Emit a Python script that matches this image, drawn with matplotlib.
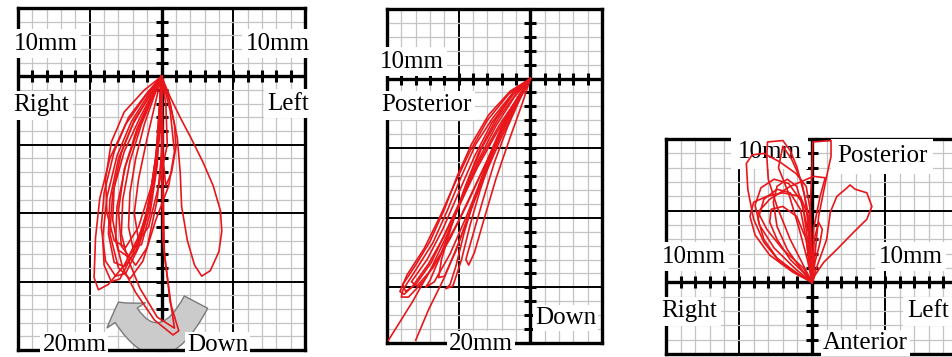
import matplotlib
matplotlib.use("Agg")
import matplotlib.pyplot as plt
import numpy as np
from matplotlib.patches import FancyArrowPatch

# ---------------- data (mm) ----------------
# Panel 1: frontal view (x: Right(-)/Left(+), y: Down(-))
front_loops = [
    [(0, 0), (-1.1, -1.4), (-2.5, -3.5), (-3.6, -6.0), (-4.3, -8.9), (-4.6, -11.8), (-4.7, -14.7),
     (-4.4, -15.6), (-3.7, -15.2), (-2.6, -13.8), (-1.4, -11.3), (-0.5, -7.7), (-0.1, -4.0), (0, 0)],
    [(0, 0), (-1.0, -1.2), (-2.3, -3.0), (-3.3, -5.5), (-4.0, -8.5), (-4.2, -11.0), (-3.9, -13.5),
     (-3.2, -14.6), (-2.5, -14.4), (-1.6, -12.5), (-0.8, -9.5), (-0.3, -5.5), (0, 0)],
    [(0, 0), (-0.9, -1.5), (-2.0, -3.5), (-3.0, -6.0), (-3.6, -9.0), (-3.7, -11.5), (-3.3, -13.6),
     (-2.6, -13.9), (-1.8, -12.8), (-1.0, -10.0), (-0.4, -6.0), (0, 0)],
    [(0, 0), (-0.8, -1.4), (-1.9, -3.2), (-2.8, -5.6), (-3.3, -8.0), (-3.4, -10.5), (-3.0, -12.7),
     (-2.3, -13.2), (-1.5, -12.0), (-0.8, -9.0), (-0.3, -5.0), (0, 0)],
    [(0, 0), (-0.7, -1.6), (-1.6, -3.8), (-2.5, -6.5), (-3.1, -9.5), (-3.2, -12.0), (-2.7, -14.0),
     (-1.8, -15.8), (-0.5, -17.8), (0.8, -18.9), (1.2, -18.6), (0.6, -16.5), (0.1, -12.0), (0.0, -6.0), (0, 0)],
    [(0, 0), (-0.6, -1.5), (-1.4, -3.5), (-2.2, -6.2), (-2.7, -9.0), (-2.8, -11.5), (-2.4, -13.2),
     (-1.5, -15.5), (-0.3, -17.6), (0.9, -18.4), (0.7, -17.0), (0.2, -13.0), (0.1, -8.0), (0, 0)],
    [(0, 0), (-0.6, -1.2), (-1.5, -3.0), (-2.6, -5.5), (-3.4, -8.5), (-3.6, -11.5), (-3.0, -14.0),
     (-2.2, -14.8), (-1.3, -13.5), (-0.4, -10.5), (0.5, -8.0), (0.9, -5.5), (0.6, -2.5), (0, 0)],
    [(0, 0), (-0.5, -1.4), (-1.2, -3.5), (-1.8, -6.0), (-2.2, -8.5), (-2.3, -11.0), (-2.0, -12.5),
     (-1.4, -12.3), (-0.8, -10.0), (-0.3, -6.5), (0, 0)],
    [(0, 0), (-1.2, -1.0), (-2.6, -2.6), (-3.5, -4.8), (-3.9, -7.5), (-3.8, -10.0), (-3.3, -12.0),
     (-2.5, -12.5), (-1.6, -11.0), (-0.7, -8.0), (-0.2, -4.5), (0, 0)],
    [(0, 0), (0.6, -1.5), (1.3, -3.0), (2.1, -4.6), (2.9, -6.3), (3.6, -8.0), (4.1, -9.8), (4.2, -11.3),
     (4.0, -12.8), (3.4, -14.2), (2.8, -14.6), (2.3, -13.8), (1.8, -12.0), (1.4, -9.5), (1.3, -7.0),
     (1.1, -4.5), (0.6, -2.0), (0, 0)],
    [(0, 0), (0.5, -1.5), (0.9, -3.5), (1.0, -5.2), (0.7, -7.0), (0.3, -8.0), (0.1, -6.0), (0, 0)],
    [(0, 0), (-0.4, -1.8), (-1.0, -4.5), (-1.6, -7.5), (-1.9, -10.0), (-1.6, -12.0), (-0.9, -11.0),
     (-0.2, -8.0), (0.4, -5.0), (0.3, -2.0), (0, 0)],
    [(0, 0), (-0.9, -1.3), (-2.1, -3.3), (-3.1, -5.8), (-3.8, -8.8), (-4.1, -11.8), (-4.0, -13.8),
     (-3.5, -15.0), (-2.9, -14.8), (-2.0, -13.0), (-1.1, -10.2), (-0.4, -6.5), (0, 0)],
    [(0, 0), (-0.7, -1.5), (-1.7, -3.8), (-2.6, -6.8), (-3.0, -9.8), (-2.8, -12.4), (-1.8, -13.8),
     (-1.0, -12.5), (-0.3, -9.0), (0.1, -4.5), (0, 0)],
]

# Panel 2: sagittal view (x: Posterior(-), y: Down(-))
sagittal_loops = [
    [(0, 0), (-1.2, -1.0), (-2.6, -2.8), (-3.8, -4.7), (-4.8, -7.0), (-5.8, -9.5), (-6.8, -11.8),
     (-7.9, -13.6), (-8.9, -15.2), (-9.0, -15.7), (-8.5, -15.7), (-7.4, -14.5), (-6.2, -12.5),
     (-5.0, -10.2), (-3.8, -7.6), (-2.6, -5.0), (-1.3, -2.4), (0, 0)],
    [(0, 0), (-1.0, -1.1), (-2.2, -2.8), (-3.4, -5.0), (-4.4, -7.5), (-5.4, -10.2), (-6.3, -12.8),
     (-7.0, -14.5), (-7.3, -15.0), (-6.7, -14.6), (-5.6, -12.6), (-4.5, -10.0), (-3.4, -7.2),
     (-2.2, -4.4), (-1.0, -1.8), (0, 0)],
    [(0, 0), (-0.8, -1.2), (-1.9, -3.2), (-2.9, -5.6), (-3.8, -8.3), (-4.6, -11.0), (-5.2, -13.5),
     (-5.6, -14.8), (-5.9, -15.1), (-5.4, -14.9), (-4.8, -13.0), (-4.2, -10.5), (-3.5, -8.0),
     (-2.6, -5.3), (-1.5, -2.6), (0, 0)],
    [(0, 0), (-1.1, -1.3), (-2.4, -3.4), (-3.6, -5.8), (-4.7, -8.5), (-5.8, -11.2), (-6.9, -13.6),
     (-8.2, -16.0), (-9.9, -18.8)],
    [(0, 0), (-0.9, -1.4), (-2.0, -3.6), (-3.0, -6.2), (-4.0, -9.0), (-5.0, -11.8), (-6.0, -14.3),
     (-7.1, -16.6), (-8.0, -18.8)],
    [(0, 0), (-1.4, -0.9), (-2.9, -2.6), (-4.1, -4.7), (-5.1, -7.0), (-6.0, -9.4), (-7.0, -11.7),
     (-8.0, -13.4), (-8.9, -14.8), (-8.7, -15.3), (-8.0, -14.8), (-6.9, -13.2), (-5.9, -11.0),
     (-4.8, -8.6), (-3.6, -6.0), (-2.2, -3.4), (-0.9, -1.4), (0, 0)],
    [(0, 0), (-0.7, -1.4), (-1.6, -3.5), (-2.5, -6.0), (-3.3, -8.7), (-4.0, -11.2), (-4.5, -13.0),
     (-4.3, -13.4), (-3.9, -12.5), (-3.2, -10.0), (-2.4, -7.2), (-1.4, -4.2), (-0.5, -1.6), (0, 0)],
    [(0, 0), (-1.3, -1.2), (-2.7, -3.2), (-3.9, -5.6), (-5.0, -8.2), (-6.1, -10.8), (-7.2, -13.0),
     (-8.3, -14.6), (-7.9, -14.9), (-6.8, -13.6), (-5.6, -11.5), (-4.4, -9.0), (-3.2, -6.3),
     (-1.9, -3.6), (-0.7, -1.3), (0, 0)],
    [(0, 0), (-1.1, -1.0), (-2.4, -2.9), (-3.6, -5.3), (-4.6, -7.9), (-5.5, -10.6), (-6.2, -13.0),
     (-6.4, -14.3), (-6.0, -14.2), (-5.2, -12.4), (-4.3, -9.8), (-3.2, -7.0), (-2.0, -4.2),
     (-0.8, -1.6), (0, 0)],
    [(0, 0), (-1.5, -1.1), (-3.0, -3.0), (-4.2, -5.2), (-5.3, -7.6), (-6.3, -9.9), (-7.4, -12.2),
     (-8.6, -14.1), (-9.1, -15.3), (-8.8, -15.5), (-8.2, -14.9), (-7.1, -13.3), (-6.0, -11.3),
     (-4.9, -9.0), (-3.7, -6.4), (-2.3, -3.8), (-1.0, -1.6), (0, 0)],
]

# Panel 3: horizontal view (x: Right(-)/Left(+), y: Posterior(+)/Anterior(-))
horizontal_loops = [
    [(0, 0), (-0.8, 0.5), (-2.2, 1.4), (-3.3, 2.8), (-4.0, 4.4), (-4.4, 6.5), (-4.5, 8.3), (-4.1, 8.9),
     (-3.3, 9.0), (-2.2, 8.4), (-1.1, 7.6), (-0.4, 6.7), (-0.1, 4.9), (-0.05, 1.9), (0, 0)],
    [(0, 0), (-1.3, 0.7), (-2.9, 1.9), (-3.9, 3.3), (-4.25, 4.6), (-4.0, 5.6), (-3.1, 6.0), (-2.0, 6.25),
     (-0.8, 6.0), (-0.25, 4.6), (-0.1, 1.9), (0, 0)],
    [(0, 0), (-1.0, 0.6), (-2.4, 1.7), (-3.3, 3.0), (-3.7, 4.4), (-3.3, 5.8), (-2.4, 6.5), (-1.5, 6.25),
     (-0.8, 5.1), (-0.4, 3.0), (-0.15, 1.0), (0, 0)],
    [(0, 0), (-0.8, 1.0), (-1.7, 2.3), (-2.4, 3.9), (-2.65, 5.6), (-2.4, 6.7), (-1.7, 7.2), (-1.05, 6.7),
     (-0.6, 5.1), (-0.25, 2.6), (0, 0)],
    [(0, 0), (-0.5, 1.0), (-1.5, 3.0), (-2.4, 5.3), (-3.0, 7.2), (-3.1, 8.8), (-3.05, 9.8), (-2.0, 9.9),
     (-1.5, 9.2), (-1.05, 8.1), (-0.5, 6.0), (-0.15, 3.0), (0, 0)],
    [(0, 0), (-0.25, 1.9), (-0.15, 4.9), (0.0, 7.9), (0.05, 9.8), (1.3, 9.9), (1.3, 8.8), (1.0, 7.4),
     (0.45, 4.6), (0.15, 1.4), (0, 0)],
    [(0, 0), (-0.6, 1.0), (-2.0, 2.3), (-3.1, 3.7), (-3.7, 4.9), (-2.9, 5.8), (-1.5, 6.7), (0.1, 7.4),
     (0.9, 7.3), (0.55, 6.0), (0.1, 3.7), (0, 0)],
    [(0, 0), (-0.6, 0.7), (-1.5, 1.6), (-2.4, 3.0), (-2.9, 4.2), (-2.8, 5.1), (-2.0, 5.3), (-1.05, 4.6),
     (-0.4, 3.0), (0, 0)],
    [(0, 0), (0.2, 1.4), (0.55, 2.8), (0.7, 3.7), (0.45, 4.2), (0.15, 3.0), (0, 0)],
    [(0, 0), (0.3, 1.0), (1.0, 3.0), (1.25, 4.9), (1.7, 6.0), (2.4, 6.6), (2.6, 6.8), (2.95, 6.5),
     (3.75, 6.25), (4.1, 5.3), (3.75, 4.4), (2.85, 3.5), (1.7, 2.3), (0.8, 1.4), (0.2, 0.5), (0, 0)],
    [(0, 0), (-0.3, 1.5), (-0.9, 3.8), (-1.6, 6.2), (-2.3, 8.0), (-2.0, 9.5), (-1.4, 8.6), (-0.7, 7.0),
     (-0.3, 5.0), (0, 0)],
    [(0, 0), (-1.1, 0.9), (-2.6, 2.4), (-3.6, 4.0), (-3.9, 5.4), (-3.5, 6.6), (-2.6, 7.2), (-1.6, 6.9),
     (-0.7, 5.6), (-0.2, 3.2), (0, 0)],
]

# ---------------- drawing ----------------
RED = "#e8161a"
SERIF = ["Liberation Serif", "DejaVu Serif"]
FS = 18

fig = plt.figure(figsize=(9.53, 3.57), dpi=100)


def grid_panel(ax, xlim, ylim):
    ax.set_xlim(*xlim)
    ax.set_ylim(*ylim)
    minor_x = np.arange(np.ceil(xlim[0]), xlim[1] + 0.01, 1)
    minor_y = np.arange(np.ceil(ylim[0]), ylim[1] + 0.01, 1)
    ax.set_xticks(minor_x, minor=True)
    ax.set_yticks(minor_y, minor=True)
    ax.set_xticks(minor_x[minor_x % 5 == 0])
    ax.set_yticks(minor_y[minor_y % 5 == 0])
    ax.grid(which="minor", color="#c4c4c4", lw=0.9)
    ax.grid(which="major", color="black", lw=1.4)
    ax.tick_params(which="both", length=0, labelbottom=False, labelleft=False)
    for s in ax.spines.values():
        s.set_linewidth(2.4)
    ax.axhline(0, color="black", lw=2.4, zorder=2)
    ax.axvline(0, color="black", lw=2.4, zorder=2)
    ax.plot(minor_x, np.zeros_like(minor_x), ls="none", marker="|", ms=8, mew=2.2,
            color="black", zorder=2, clip_on=False)
    ax.plot(np.zeros_like(minor_y), minor_y, ls="none", marker="_", ms=8, mew=2.2,
            color="black", zorder=2, clip_on=False)
    ax.set_axisbelow(True)


def label(ax, x, y, s, ha="left", va="center", pad=2.5):
    ax.text(x, y, s, ha=ha, va=va, fontsize=FS, family=SERIF, zorder=2.7,
            bbox=dict(facecolor="white", edgecolor="none", pad=pad))


def draw_loops(ax, loops):
    for lp in loops:
        xs = [p[0] for p in lp]
        ys = [p[1] for p in lp]
        ax.plot(xs, ys, color=RED, lw=1.2, zorder=3, solid_joinstyle="round")


# Panel 1
ax1 = fig.add_axes([0.0189, 0.0196, 0.3012, 0.958])
grid_panel(ax1, (-10, 10), (-20, 5))
arrow = FancyArrowPatch((2.4, -16.5), (-3.0, -16.5), connectionstyle="arc3,rad=-0.95",
                        arrowstyle="simple,head_length=1.1,head_width=3.3,tail_width=1.9",
                        mutation_scale=10, fc="#cbcbcb", ec="#7a7a7a", lw=1.0,
                        shrinkA=0, shrinkB=0, zorder=2.2)
ax1.add_patch(arrow)
draw_loops(ax1, front_loops)
label(ax1, -10.3, 2.4, "10mm")
label(ax1, 10.3, 2.4, "10mm", ha="right")
label(ax1, -10.3, -2.1, "Right")
label(ax1, 10.3, -2.0, "Left", ha="right")
label(ax1, -8.3, -20.45, "20mm", va="bottom", pad=1.5)
label(ax1, 1.8, -20.45, "Down", va="bottom", pad=1.5)

# Panel 2
ax2 = fig.add_axes([0.4061, 0.0392, 0.2256, 0.9356])
grid_panel(ax2, (-10, 5), (-19, 5))
draw_loops(ax2, sagittal_loops)
label(ax2, -10.5, 1.2, "10mm")
label(ax2, -10.4, -1.9, "Posterior")
label(ax2, 4.6, -17.2, "Down", ha="right", pad=1.5)
label(ax2, -5.7, -19.05, "20mm", pad=1.5)

# Panel 3
ax3 = fig.add_axes([0.6989, 0.0084, 0.3064, 0.602])
grid_panel(ax3, (-10, 10), (-5, 10))
draw_loops(ax3, horizontal_loops)
label(ax3, -5.1, 9.1, "10mm", pad=4.5)
label(ax3, 1.7, 8.8, "Posterior", pad=4.5)
label(ax3, -10.3, 1.8, "10mm")
label(ax3, 4.55, 1.8, "10mm")
label(ax3, -10.3, -2.0, "Right")
label(ax3, 6.5, -2.0, "Left")
label(ax3, 0.75, -4.2, "Anterior", pad=1.5)

fig.savefig("out.png", dpi=100)
